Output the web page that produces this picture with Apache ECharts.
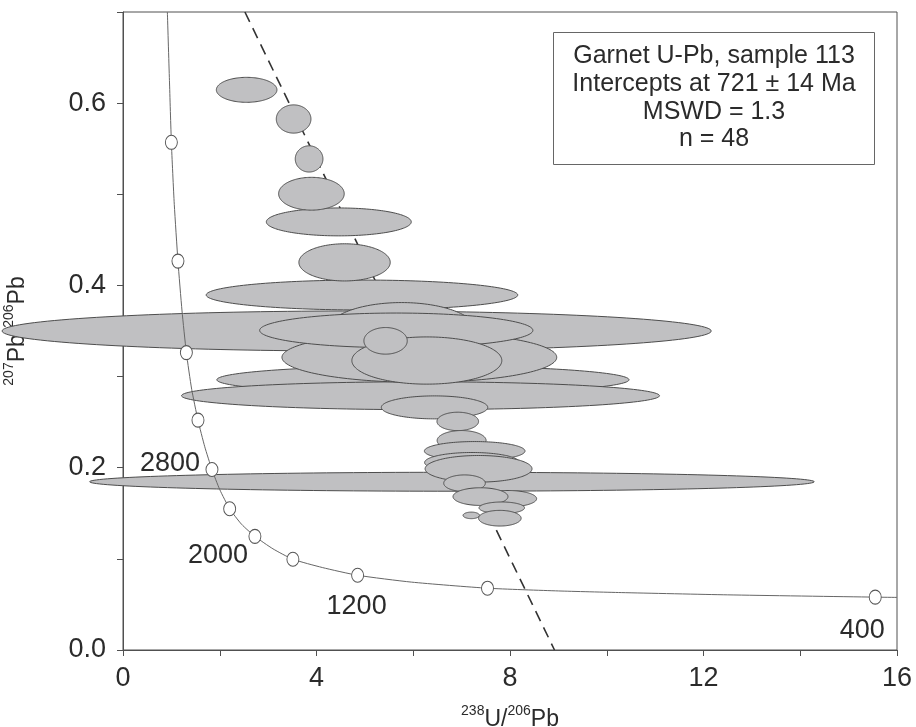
<!DOCTYPE html>
<html>
<head>
<meta charset="utf-8">
<script src="https://cdn.jsdelivr.net/npm/echarts@6/dist/echarts.min.js"></script>
<style>
html,body{margin:0;padding:0;background:#fff;}
#chart{width:916px;height:727px;}
</style>
</head>
<body>
<div id="chart"></div>
<script>
// ---- Data ----
// Concordia age markers (Ma) and their positions
const markerAges = [400, 800, 1200, 1600, 2000, 2400, 2800, 3200, 3600, 4000, 4400];
const markerX = [15.55, 7.535, 4.85, 3.512, 2.727, 2.205, 1.839, 1.550, 1.310, 1.136, 1.000];
const markerY = [0.058, 0.0678, 0.082, 0.0996, 0.1247, 0.155, 0.198, 0.2522, 0.3263, 0.4267, 0.557];
const labelledAges = [2800, 2000, 1200, 400];
// Concordia curve trace, ascending x
const curveX = [0.917, 0.96, 1.000, 1.06, 1.136, 1.22, 1.310, 1.42, 1.550, 1.69, 1.839, 2.0, 2.205, 2.45, 2.727, 3.1, 3.512, 4.12, 4.85, 5.96, 7.535, 9.0, 10.3, 12.5, 15.55, 16.0];
const curveY = [0.700, 0.625, 0.557, 0.489, 0.4267, 0.372, 0.3263, 0.286, 0.2522, 0.223, 0.198, 0.176, 0.155, 0.138, 0.1247, 0.111, 0.0996, 0.0905, 0.082, 0.0745, 0.0678, 0.0648, 0.063, 0.0605, 0.058, 0.0577];
// Discordia (regression) line end points
const discordiaX = [2.52, 8.92];
const discordiaY = [0.70, 0.0];
// Error ellipses: centre x, centre y, semi-axis x, semi-axis y (drawing order)
const ellCX = [4.83, 6.80, 4.94, 5.76, 6.20, 6.15, 6.126, 5.649, 6.281, 5.428, 6.44, 6.92, 4.461, 4.58, 3.895, 3.847, 3.527, 2.556, 7.00, 7.27, 7.215, 7.35, 7.06, 7.96, 7.39, 7.83, 7.20, 7.79];
const ellCY = [0.350, 0.1846, 0.3895, 0.350, 0.2965, 0.279, 0.3211, 0.3507, 0.3176, 0.3392, 0.2662, 0.2508, 0.4697, 0.4253, 0.5006, 0.5388, 0.5826, 0.6146, 0.2298, 0.2183, 0.2057, 0.1988, 0.183, 0.166, 0.1683, 0.156, 0.1477, 0.1446];
const ellRX = [7.33, 7.49, 3.22, 1.55, 4.26, 4.94, 2.84, 2.824, 1.55, 0.448, 1.10, 0.43, 1.498, 0.944, 0.678, 0.286, 0.358, 0.626, 0.506, 1.04, 0.98, 1.105, 0.43, 0.59, 0.568, 0.47, 0.17, 0.44];
const ellRY = [0.022, 0.0104, 0.0164, 0.0312, 0.0153, 0.0153, 0.0274, 0.019, 0.0259, 0.0146, 0.0126, 0.0101, 0.0153, 0.0204, 0.018, 0.0144, 0.0155, 0.0137, 0.011, 0.0104, 0.011, 0.0146, 0.0091, 0.009, 0.0097, 0.0064, 0.0036, 0.0086];
// Axes
const xMin = 0, xMax = 16, xStep = 2;
const yMin = 0, yMax = 0.7, yStep = 0.1;
// Annotation box
const boxLines = ['Garnet U-Pb, sample 113', 'Intercepts at 721 \u00b1 14 Ma', 'MSWD = 1.3', 'n = 48'];

// ---- Build ----
const FONT = '"Liberation Sans", Arial, Helvetica, sans-serif';
const TXT = '#2b2b2b';
const AX = '#505050';

const ellipseData = ellCX.map((c, i) => [c, ellCY[i], ellRX[i], ellRY[i]]);
const curveData = curveX.map((x, i) => [x, curveY[i]]);
const labelOffsets = {2800: [-42, -6], 2000: [-37, 19], 1200: [-1, 31], 400: [-13, 33]};
const markerData = markerX.map((x, i) => {
  const age = markerAges[i];
  const d = {value: [x, markerY[i]]};
  if (labelledAges.indexOf(age) >= 0) {
    d.label = {show: true, formatter: String(age), position: 'inside', offset: labelOffsets[age]};
  }
  return d;
});

const chart = echarts.init(document.getElementById('chart'), null, {renderer: 'canvas'});
const option = {
  animation: false,
  backgroundColor: '#fff',
  grid: {left: 123, right: 19, top: 12, bottom: 77, containLabel: false, outerBoundsMode: 'none',
    show: true, borderColor: AX, borderWidth: 1, backgroundColor: 'transparent'},
  xAxis: {
    type: 'value', min: xMin, max: xMax, interval: xStep,
    axisLine: {show: true, onZero: false, lineStyle: {color: AX, width: 1}},
    axisTick: {show: true, inside: false, length: 6, lineStyle: {color: AX}},
    splitLine: {show: false},
    axisLabel: {interval: 1, fontSize: 27, color: TXT, fontFamily: FONT, margin: 15,
      formatter: v => (Math.round(v) % 4 === 0 ? String(Math.round(v)) : '')},
    name: '{s|238}{b|U/}{s|206}{b|Pb}',
    nameLocation: 'middle', nameGap: 54,
    nameTextStyle: {fontFamily: FONT, color: TXT, rich: {
      b: {fontSize: 23, fontFamily: FONT, color: TXT, lineHeight: 27, verticalAlign: 'bottom'},
      s: {fontSize: 14, fontFamily: FONT, color: TXT, lineHeight: 27, verticalAlign: 'top'}
    }}
  },
  yAxis: {
    type: 'value', min: yMin, max: yMax, interval: yStep,
    axisLine: {show: true, onZero: false, lineStyle: {color: AX, width: 1}},
    axisTick: {show: true, inside: false, length: 6, lineStyle: {color: AX}},
    splitLine: {show: false},
    axisLabel: {fontSize: 27, color: TXT, fontFamily: FONT, margin: 17,
      formatter: v => {const k = Math.round(v * 10); return (k % 2 === 0 && k < 7) ? (k / 10).toFixed(1) : '';}},
    name: '{s|207}{b|Pb/}{s|206}{b|Pb}',
    nameLocation: 'middle', nameRotate: 90, nameGap: 94,
    nameTextStyle: {fontFamily: FONT, color: TXT, rich: {
      b: {fontSize: 23, fontFamily: FONT, color: TXT, lineHeight: 27, verticalAlign: 'bottom'},
      s: {fontSize: 14, fontFamily: FONT, color: TXT, lineHeight: 27, verticalAlign: 'top'}
    }}
  },
  series: [
    {
      type: 'line', name: 'discordia', data: discordiaX.map((x, i) => [x, discordiaY[i]]),
      showSymbol: false, symbol: 'none', z: 1,
      lineStyle: {color: '#333', width: 1.6, type: [11, 7]}
    },
    {
      type: 'custom', name: 'ellipses', z: 2, clip: false,
      data: ellipseData,
      encode: {x: 0, y: 1},
      renderItem: function (params, api) {
        const cx = api.value(0), cy = api.value(1), rx = api.value(2), ry = api.value(3);
        const pts = [];
        const N = 160;
        for (let k = 0; k < N; k++) {
          const t = 2 * Math.PI * k / N;
          pts.push(api.coord([cx + rx * Math.cos(t), cy + ry * Math.sin(t)]));
        }
        return {type: 'polygon', shape: {points: pts},
          style: {fill: '#c0c0c2', stroke: '#4d4d4d', lineWidth: 1}};
      }
    },
    {
      type: 'line', name: 'concordia', data: curveData, showSymbol: false, symbol: 'none',
      smooth: 0.2, z: 3,
      lineStyle: {color: '#666', width: 1}
    },
    {
      type: 'scatter', name: 'ages', data: markerData, z: 4,
      symbol: 'circle', symbolSize: [12, 14],
      itemStyle: {color: '#fff', borderColor: '#555', borderWidth: 1, opacity: 1},
      label: {show: false, fontSize: 27, fontFamily: FONT, color: TXT, align: 'center', verticalAlign: 'middle'}
    }
  ],
  graphic: [
    {type: 'rect', left: 553, top: 32, shape: {width: 321, height: 132}, z: 10,
      style: {fill: '#fff', stroke: '#666', lineWidth: 1}},
    {type: 'text', x: 714, y: 98, z: 11,
      style: {text: boxLines.join('\n'), font: '25px ' + FONT, fill: TXT, align: 'center', verticalAlign: 'middle', lineHeight: 27.7}}
  ]
};
chart.setOption(option);
</script>
</body>
</html>
